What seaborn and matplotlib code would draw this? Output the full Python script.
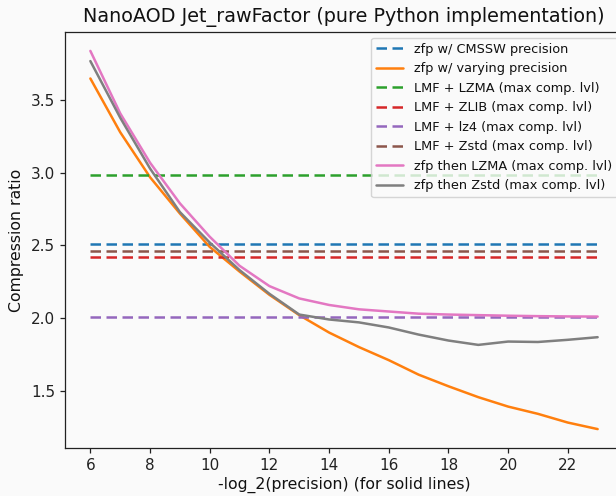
import matplotlib
matplotlib.use("Agg")
import matplotlib.pyplot as plt
import seaborn as sns
import numpy as np
import pandas as pd

# ---- data ----
precision = list(range(6, 24))
zfp_varying = [3.65, 3.28, 2.97, 2.72, 2.49, 2.32, 2.16, 2.02, 1.90, 1.80,
               1.71, 1.61, 1.53, 1.455, 1.39, 1.34, 1.28, 1.235]
zfp_lzma = [3.84, 3.41, 3.07, 2.79, 2.56, 2.36, 2.22, 2.135, 2.09, 2.06,
            2.045, 2.03, 2.024, 2.02, 2.016, 2.013, 2.011, 2.01]
zfp_zstd = [3.77, 3.38, 3.03, 2.73, 2.52, 2.33, 2.167, 2.024, 1.99, 1.97,
            1.935, 1.886, 1.845, 1.815, 1.838, 1.835, 1.85, 1.868]

const_labels = ["zfp w/ CMSSW precision", "LMF + LZMA (max comp. lvl)",
                "LMF + ZLIB (max comp. lvl)", "LMF + lz4 (max comp. lvl)",
                "LMF + Zstd (max comp. lvl)"]
const_values = [2.51, 2.985, 2.42, 2.005, 2.46]

title = "NanoAOD Jet_rawFactor (pure Python implementation)"
xlabel = "-log_2(precision) (for solid lines)"
ylabel = "Compression ratio"

# ---- style ----
sns.set_style("ticks")
plt.rcParams.update({
    "figure.facecolor": "#fafafa",
    "axes.facecolor": "#fafafa",
    "savefig.facecolor": "#fafafa",
    "axes.edgecolor": "#222222",
    "axes.linewidth": 0.9,
    "xtick.major.size": 3.5,
    "ytick.major.size": 3.5,
    "xtick.major.width": 0.9,
    "ytick.major.width": 0.9,
    "xtick.color": "#222222",
    "ytick.color": "#222222",
    "text.color": "#111111",
    "axes.labelcolor": "#111111",
    "font.family": ["DejaVu Sans"],
    "font.size": 11,
    "xtick.labelsize": 11,
    "ytick.labelsize": 11,
    "axes.titlesize": 13.8,
    "axes.labelsize": 11.3,
    "legend.fontsize": 9.3,
})

pal = sns.color_palette("tab10")
LW = 1.8

fig = plt.figure(figsize=(6.16, 4.96), dpi=100)
ax = fig.add_axes([65 / 616, (496 - 448) / 496, (623 - 65) / 616, (448 - 32) / 496])

xmin, xmax = precision[0], precision[-1]

def hline(val, color, label):
    sns.lineplot(x=[xmin, xmax], y=[val, val], ax=ax, color=color,
                 linestyle=(0, (4.2, 2.2)), linewidth=LW, label=label)

hline(const_values[0], pal[0], const_labels[0])
sns.lineplot(x=precision, y=zfp_varying, ax=ax, color=pal[1], linewidth=LW,
             label="zfp w/ varying precision")
hline(const_values[1], pal[2], const_labels[1])
hline(const_values[2], pal[3], const_labels[2])
hline(const_values[3], pal[4], const_labels[3])
hline(const_values[4], pal[5], const_labels[4])
sns.lineplot(x=precision, y=zfp_lzma, ax=ax, color=pal[6], linewidth=LW,
             label="zfp then LZMA (max comp. lvl)")
sns.lineplot(x=precision, y=zfp_zstd, ax=ax, color=pal[7], linewidth=LW,
             label="zfp then Zstd (max comp. lvl)")

ax.set_xticks(list(range(6, 24, 2)))
ax.set_yticks([1.5, 2.0, 2.5, 3.0, 3.5])
ax.margins(x=0.05, y=0.05)
ax.set_title(title, pad=7)
ax.set_xlabel(xlabel, labelpad=3)
ax.set_ylabel(ylabel, labelpad=5)
leg = ax.legend(loc="upper right", framealpha=0.8, edgecolor="#cccccc",
                fancybox=True, handlelength=2.1, borderaxespad=0.45)

fig.savefig("out.png", dpi=100)
